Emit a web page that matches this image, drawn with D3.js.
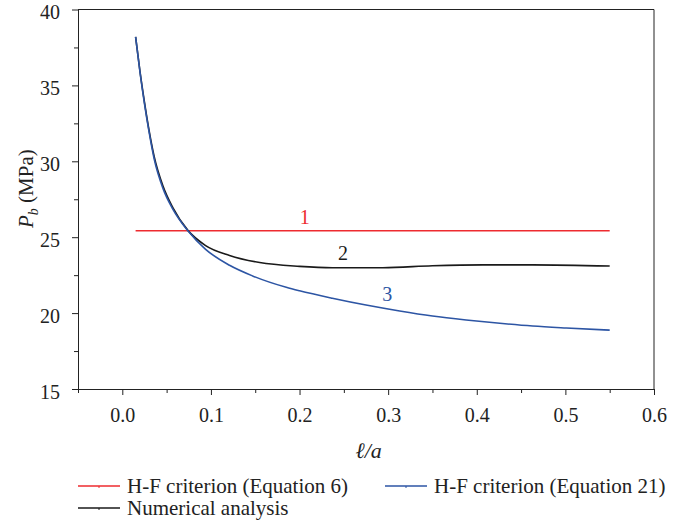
<!DOCTYPE html>
<html>
<head>
<meta charset="utf-8">
<script src="https://cdn.jsdelivr.net/npm/d3@7"></script>
<style>
  body { margin: 0; background: #fff; }
  svg text { font-family: "Liberation Serif", "DejaVu Serif", serif; }
</style>
</head>
<body>
<svg></svg>
<script>
// data
var xTicks = [0.0, 0.1, 0.2, 0.3, 0.4, 0.5, 0.6];
var xMinor = [-0.05, 0.05, 0.15, 0.25, 0.35, 0.45, 0.55];
var yTicks = [15, 20, 25, 30, 35, 40];
var yMinor = [17.5, 22.5, 27.5, 32.5, 37.5];

var hfEq6 = [[0.015, 25.42], [0.55, 25.42]];

var numerical = [[0.015, 38.2], [0.02, 35.9], [0.025, 33.9], [0.03, 32.1], [0.036, 30.3],
    [0.046, 28.35], [0.057, 26.95], [0.074, 25.45], [0.094, 24.45], [0.121, 23.8],
    [0.155, 23.33], [0.2, 23.08], [0.237, 22.99], [0.294, 22.99], [0.35, 23.12],
    [0.407, 23.18], [0.463, 23.18], [0.55, 23.1]];

var hfEq21 = [[0.015, 38.2], [0.02, 35.85], [0.025, 33.8], [0.03, 32.0], [0.036, 30.15],
    [0.046, 28.2], [0.057, 26.85], [0.074, 25.42], [0.094, 24.2], [0.121, 23.15],
    [0.147, 22.45], [0.185, 21.7], [0.2, 21.47], [0.237, 20.98], [0.275, 20.53],
    [0.313, 20.14], [0.35, 19.81], [0.388, 19.55], [0.426, 19.33], [0.463, 19.15],
    [0.501, 19.02], [0.55, 18.88]];

var curveLabels = [
    {text: "1", x: 0.206, y: 25.85, color: "#ee2b2f"},
    {text: "2", x: 0.249, y: 23.5, color: "#1a1a1a"},
    {text: "3", x: 0.299, y: 20.8, color: "#2d55a4"}
];

var legendItems = [
    {label: "H-F criterion (Equation 6)", color: "#ee2b2f", col: 0, row: 0},
    {label: "H-F criterion (Equation 21)", color: "#2d55a4", col: 1, row: 0},
    {label: "Numerical analysis", color: "#1a1a1a", col: 0, row: 1}
];

var W = 690, H = 521;
var margin = {top: 9.5, right: 36, bottom: 132, left: 78},
    width = W - margin.left - margin.right,
    height = H - margin.top - margin.bottom;

var x = d3.scaleLinear().domain([-0.05, 0.6]).range([0, width]);
var y = d3.scaleLinear().domain([15, 40]).range([height, 0]);

var svg = d3.select("svg").attr("width", W).attr("height", H);
var g = svg.append("g")
    .attr("transform", "translate(" + margin.left + "," + margin.top + ")");

// minor ticks
g.append("g")
    .attr("transform", "translate(0," + height + ")")
    .call(d3.axisBottom(x).tickValues(xMinor).tickSize(4).tickFormat(""))
    .call(function(s) { s.select(".domain").remove(); s.selectAll("line").attr("stroke", "#222"); });
g.append("g")
    .call(d3.axisLeft(y).tickValues(yMinor).tickSize(4).tickFormat(""))
    .call(function(s) { s.select(".domain").remove(); s.selectAll("line").attr("stroke", "#222"); });

var xAxis = g.append("g")
    .attr("transform", "translate(0," + height + ")")
    .call(d3.axisBottom(x).tickValues(xTicks).tickSize(6).tickSizeOuter(0).tickPadding(13)
        .tickFormat(d3.format(".1f")));

var yAxis = g.append("g")
    .call(d3.axisLeft(y).tickValues(yTicks).tickSize(6).tickSizeOuter(0).tickPadding(12));
yAxis.selectAll("text").attr("dy", "0.45em");

[xAxis, yAxis].forEach(function(a) {
    a.selectAll("path, line").attr("stroke", "#222");
    a.selectAll("text")
        .style("font-family", "'Liberation Serif', serif")
        .style("font-size", "20px")
        .style("fill", "#222");
});

// frame top & right
g.append("line").attr("x1", 0).attr("x2", width).attr("y1", 0).attr("y2", 0)
    .attr("stroke", "#222");
g.append("line").attr("x1", width).attr("x2", width).attr("y1", 0).attr("y2", height)
    .attr("stroke", "#222");

var line = d3.line()
    .x(function(d) { return x(d[0]); })
    .y(function(d) { return y(d[1]); })
    .curve(d3.curveMonotoneX);

g.append("path").attr("d", line(hfEq6)).attr("fill", "none")
    .attr("stroke", "#ee2b2f").attr("stroke-width", 1.5);
g.append("path").attr("d", line(numerical)).attr("fill", "none")
    .attr("stroke", "#1a1a1a").attr("stroke-width", 1.6);
g.append("path").attr("d", line(hfEq21)).attr("fill", "none")
    .attr("stroke", "#2d55a4").attr("stroke-width", 1.6);

g.selectAll(".clabel")
    .data(curveLabels)
    .enter().append("text")
    .attr("x", function(d) { return x(d.x); })
    .attr("y", function(d) { return y(d.y); })
    .attr("text-anchor", "middle")
    .style("font-size", "20px")
    .style("fill", function(d) { return d.color; })
    .text(function(d) { return d.text; });

// axis titles
g.append("text")
    .attr("x", x(0.278))
    .attr("y", height + 69)
    .attr("text-anchor", "middle")
    .style("font-size", "22px")
    .style("font-style", "italic")
    .style("fill", "#222")
    .text("ℓ/a");

var yt = svg.append("text")
    .attr("transform", "translate(33," + (margin.top + y(28.2)) + ") rotate(-90)")
    .attr("text-anchor", "middle")
    .style("font-size", "21px")
    .style("fill", "#222");
yt.append("tspan").style("font-style", "italic").text("P");
yt.append("tspan").style("font-style", "italic").style("font-size", "14px")
    .attr("dy", 5).text("b");
yt.append("tspan").attr("dy", -5).text(" (MPa)");

// legend
var legend = svg.append("g").attr("transform", "translate(78,486)");
var items = legend.selectAll(".item")
    .data(legendItems)
    .enter().append("g")
    .attr("transform", function(d) { return "translate(" + (d.col * 307) + "," + (d.row * 22) + ")"; });
items.append("line")
    .attr("x1", 0).attr("x2", 42).attr("y1", 0).attr("y2", 0)
    .attr("stroke", function(d) { return d.color; })
    .attr("stroke-width", 1.5);
items.append("line")
    .attr("x1", 21).attr("x2", 21).attr("y1", 0).attr("y2", 2)
    .attr("stroke", function(d) { return d.color; });
items.append("text")
    .attr("x", 49).attr("y", 7)
    .style("font-size", "21px")
    .style("fill", "#222")
    .text(function(d) { return d.label; });
</script>
</body>
</html>
